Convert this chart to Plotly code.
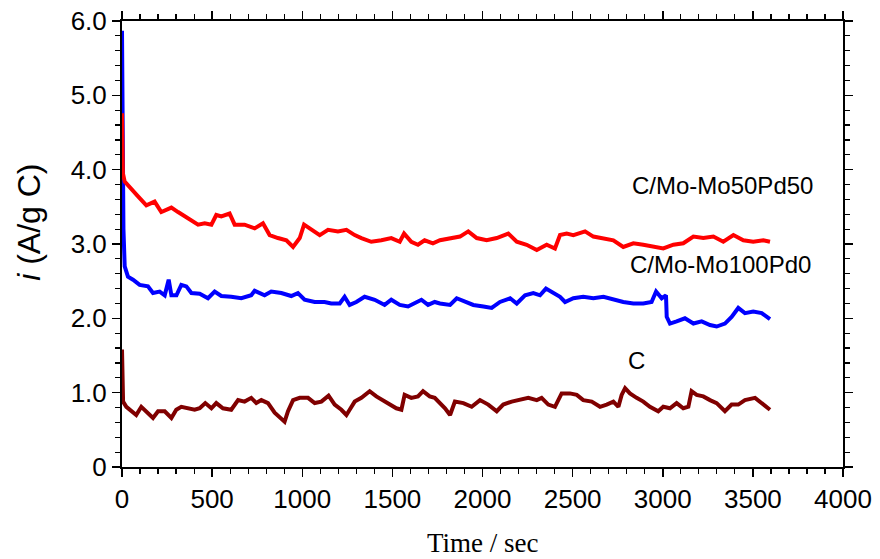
import plotly.graph_objects as go

# C/Mo-Mo50Pd50 (red)
t_red = [0, 2, 5, 15, 52, 89, 135, 181, 218, 274, 311, 348, 385, 422, 459, 496, 523, 551, 597, 625,
         680, 736, 782, 819, 865, 912, 949, 986, 1010, 1050, 1097, 1143, 1198, 1245, 1291, 1328, 1383,
         1439, 1494, 1541, 1565, 1605, 1642, 1679, 1725, 1764, 1820, 1875, 1921, 1968, 2023, 2079, 2143,
         2190, 2245, 2301, 2356, 2402, 2430, 2467, 2504, 2569, 2615, 2671, 2726, 2781, 2837, 2892, 2948,
         3003, 3059, 3114, 3170, 3225, 3281, 3336, 3392, 3447, 3502, 3558, 3595]
i_red = [4.76, 4.22, 3.95, 3.84, 3.73, 3.64, 3.52, 3.57, 3.43, 3.49, 3.43, 3.37, 3.32, 3.26, 3.28, 3.26, 3.39,
         3.37, 3.41, 3.26, 3.26, 3.21, 3.28, 3.12, 3.08, 3.05, 2.96, 3.08, 3.26, 3.19, 3.12, 3.19, 3.17,
         3.19, 3.12, 3.08, 3.03, 3.05, 3.08, 3.03, 3.14, 3.03, 2.99, 3.05, 3.01, 3.05, 3.08, 3.10, 3.17,
         3.08, 3.05, 3.08, 3.14, 3.03, 2.99, 2.92, 2.99, 2.94, 3.12, 3.14, 3.12, 3.17, 3.10, 3.08, 3.05,
         2.96, 3.01, 2.99, 2.96, 2.94, 2.99, 3.01, 3.10, 3.08, 3.10, 3.03, 3.12, 3.05, 3.03, 3.05, 3.03]

# C/Mo-Mo100Pd0 (blue)
t_blue = [0, 3, 8, 15, 33, 61, 98, 144, 172, 209, 237, 259, 274, 302, 329, 357, 385, 431, 477, 514, 551,
          606, 662, 717, 736, 791, 828, 884, 939, 976, 1013, 1069, 1124, 1161, 1208, 1235, 1263, 1300,
          1346, 1402, 1457, 1494, 1541, 1587, 1624, 1661, 1698, 1735, 1764, 1820, 1857, 1903, 1949, 2005,
          2051, 2097, 2153, 2190, 2236, 2282, 2319, 2352, 2393, 2430, 2458, 2504, 2559, 2615, 2671, 2726,
          2781, 2837, 2892, 2938, 2963, 2994, 3018, 3022, 3040, 3077, 3123, 3170, 3216, 3262, 3299, 3345,
          3382, 3419, 3456, 3502, 3549, 3595]
i_blue = [5.87, 4.5, 3.2, 2.70, 2.56, 2.52, 2.45, 2.43, 2.34, 2.36, 2.31, 2.52, 2.31, 2.31, 2.45, 2.43, 2.34,
          2.33, 2.27, 2.36, 2.30, 2.29, 2.27, 2.31, 2.37, 2.31, 2.36, 2.34, 2.30, 2.34, 2.25, 2.22, 2.22,
          2.20, 2.20, 2.29, 2.18, 2.22, 2.29, 2.25, 2.18, 2.25, 2.18, 2.16, 2.20, 2.25, 2.18, 2.22, 2.20,
          2.18, 2.27, 2.22, 2.18, 2.16, 2.14, 2.22, 2.27, 2.20, 2.31, 2.34, 2.31, 2.40, 2.34, 2.29, 2.22,
          2.27, 2.29, 2.27, 2.29, 2.25, 2.22, 2.20, 2.20, 2.22, 2.36, 2.27, 2.31, 2.02, 1.93, 1.96, 2.00,
          1.93, 1.96, 1.91, 1.89, 1.93, 2.02, 2.14, 2.07, 2.09, 2.07, 1.99]

# C (maroon)
t_c = [0, 3, 6, 24, 52, 79, 107, 135, 172, 200, 237, 274, 301, 329, 366, 403, 431, 462, 496, 523, 560, 606,
       644, 680, 717, 745, 773, 810, 847, 884, 902, 921, 949, 986, 1032, 1069, 1106, 1146, 1180, 1217,
       1245, 1263, 1291, 1328, 1374, 1411, 1448, 1485, 1522, 1550, 1568, 1605, 1642, 1670, 1707, 1735,
       1772, 1792, 1820, 1847, 1894, 1940, 1986, 2032, 2079, 2115, 2162, 2208, 2254, 2301, 2328, 2365,
       2402, 2439, 2485, 2523, 2559, 2606, 2652, 2689, 2726, 2754, 2772, 2791, 2818, 2855, 2892, 2929,
       2975, 3003, 3040, 3077, 3114, 3142, 3160, 3188, 3225, 3262, 3299, 3345, 3382, 3419, 3456, 3512,
       3549, 3595]
i_c = [1.58, 1.26, 0.88, 0.81, 0.75, 0.70, 0.81, 0.75, 0.66, 0.75, 0.75, 0.66, 0.77, 0.81, 0.79, 0.77, 0.79,
       0.86, 0.79, 0.86, 0.79, 0.77, 0.90, 0.88, 0.93, 0.86, 0.90, 0.86, 0.73, 0.66, 0.61, 0.75, 0.90,
       0.93, 0.93, 0.86, 0.88, 0.96, 0.84, 0.77, 0.70, 0.77, 0.88, 0.93, 1.02, 0.95, 0.90, 0.84, 0.79,
       0.77, 0.97, 0.93, 0.95, 1.02, 0.95, 0.93, 0.84, 0.79, 0.70, 0.88, 0.86, 0.81, 0.90, 0.84, 0.75,
       0.84, 0.88, 0.90, 0.93, 0.90, 0.93, 0.84, 0.81, 0.99, 0.99, 0.97, 0.90, 0.88, 0.81, 0.84, 0.88,
       0.81, 0.97, 1.06, 0.99, 0.93, 0.88, 0.81, 0.75, 0.81, 0.79, 0.86, 0.79, 0.81, 1.02, 0.97, 0.95,
       0.90, 0.86, 0.75, 0.84, 0.84, 0.90, 0.93, 0.86, 0.77]

labels = ["C/Mo-Mo50Pd50", "C/Mo-Mo100Pd0", "C"]
label_x = [3329, 3318, 2857]
label_y = [3.79, 2.72, 1.43]

y_tickvals = [0, 1, 2, 3, 4, 5, 6]
y_ticktext = ["0", "1.0", "2.0", "3.0", "4.0", "5.0", "6.0"]
x_tickvals = [0, 500, 1000, 1500, 2000, 2500, 3000, 3500, 4000]

fig = go.Figure()
for t, v, c in [(t_c, i_c, "#800000"), (t_blue, i_blue, "#0000ff"), (t_red, i_red, "#ff0000")]:
    fig.add_trace(go.Scatter(x=t, y=v, mode="lines", line=dict(color=c, width=4), showlegend=False))

for txt, x, y in zip(labels, label_x, label_y):
    fig.add_annotation(x=x, y=y, text=txt, showarrow=False,
                       font=dict(family="Arial, Liberation Sans", size=24, color="black"))

# axis titles as annotations for exact placement
fig.add_annotation(xref="paper", yref="paper", x=0.5, y=-0.17, yanchor="middle", xanchor="center",
                   text="Time / sec", showarrow=False,
                   font=dict(family="Times New Roman, Liberation Serif", size=27, color="black"))
fig.add_annotation(xref="paper", yref="paper", x=-0.130, y=0.548, xanchor="center", yanchor="middle",
                   text="<i>i</i> (A/g C)", textangle=-90, showarrow=False,
                   font=dict(family="Arial, Liberation Sans", size=32, color="black"))

axis_font = dict(family="Arial, Liberation Sans", size=26, color="black")
fig.update_xaxes(range=[0, 4000], tickvals=x_tickvals, ticks="outside", ticklen=8, tickwidth=1.5,
                 tickcolor="black", showline=True, linecolor="black", linewidth=2, mirror="ticks",
                 showgrid=False, zeroline=False, tickfont=axis_font, automargin=False,
                 ticklabeloverflow="allow",
                 minor=dict(dtick=100, ticks="outside", ticklen=5, tickwidth=1.2, tickcolor="black"))
fig.update_yaxes(range=[0, 6], tickvals=y_tickvals, ticktext=y_ticktext, ticks="outside", ticklen=8,
                 tickwidth=1.5, tickcolor="black", showline=True, linecolor="black", linewidth=2,
                 mirror="ticks", showgrid=False, zeroline=False, tickfont=axis_font, automargin=False,
                 ticklabeloverflow="allow",
                 minor=dict(dtick=0.2, ticks="outside", ticklen=5, tickwidth=1.2, tickcolor="black"))
fig.update_layout(width=880, height=559, margin=dict(l=122, r=37, t=21, b=92),
                  plot_bgcolor="white", paper_bgcolor="white")
fig.write_html("out.html", config={"displayModeBar": False, "staticPlot": True})

# remove the default 8px page margin so the figure fills the window exactly
with open("out.html", "r", encoding="utf-8") as f:
    html = f.read()
html = html.replace("<head>", "<head><style>html,body{margin:0;padding:0;overflow:hidden;}</style>", 1)
with open("out.html", "w", encoding="utf-8") as f:
    f.write(html)
